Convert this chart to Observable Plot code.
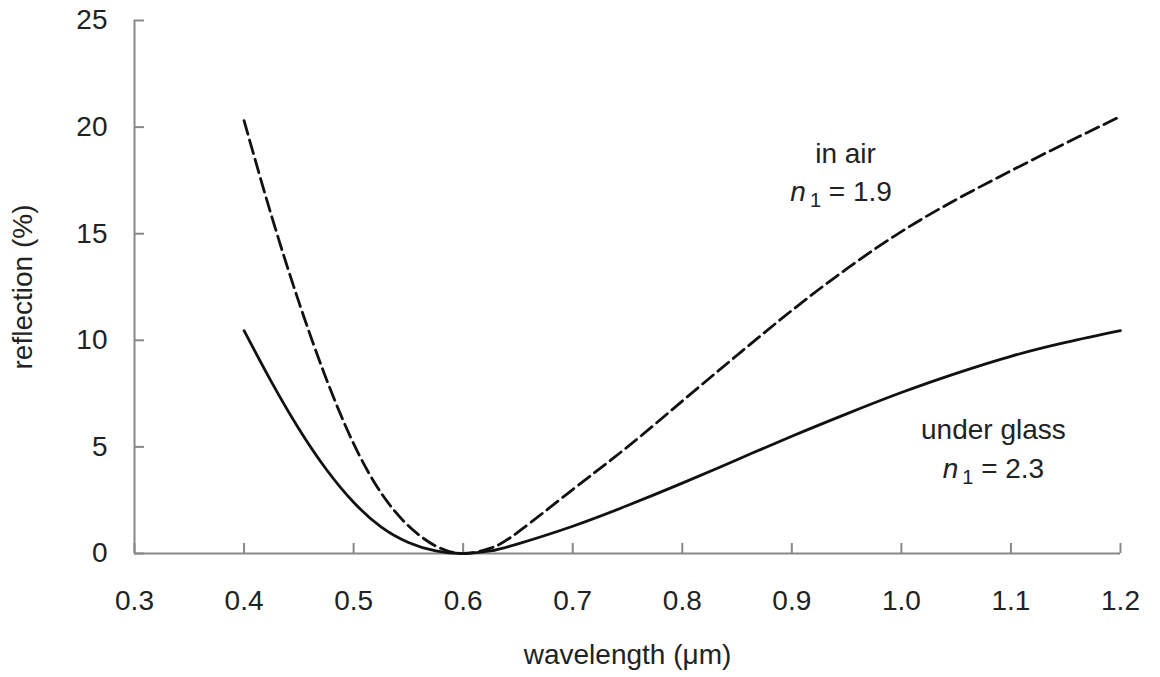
<!DOCTYPE html>
<html><head><meta charset="utf-8">
<script src="https://cdn.jsdelivr.net/npm/d3@7"></script>
<script src="https://cdn.jsdelivr.net/npm/@observablehq/plot@0.6"></script>
<style>
body{margin:0;background:#fff;}
svg{font-family:"Liberation Sans",Arial,sans-serif;}
</style>
</head><body><div id="chart"></div>
<script>
// wavelength in µm
const wavelength = [0.40,0.425,0.45,0.475,0.50,0.525,0.55,0.575,0.60,0.625,0.65,0.70,0.75,0.80,0.85,0.90,0.95,1.00,1.05,1.10,1.15,1.20];
// reflection (%) in air, n1 = 1.9 (dashed)
const inAir      = [20.3,15.85,11.8,8.2,5.15,2.85,1.3,0.35,0.0,0.25,1.0,3.0,5.0,7.15,9.3,11.4,13.35,15.1,16.6,17.95,19.25,20.5];
// reflection (%) under glass, n1 = 2.3 (solid)
const underGlass = [10.45,8.05,5.85,3.95,2.4,1.25,0.52,0.12,0.0,0.12,0.45,1.28,2.25,3.3,4.4,5.5,6.55,7.55,8.45,9.25,9.9,10.45];
const xTicks = [0.3,0.4,0.5,0.6,0.7,0.8,0.9,1.0,1.1,1.2];
const yTicks = [0,5,10,15,20,25];
const labelLines = ["in air","n₁ = 1.9","under glass","n₁ = 2.3"];

const airRows = wavelength.map((w,i)=>({w, r: inAir[i]}));
const glassRows = wavelength.map((w,i)=>({w, r: underGlass[i]}));
const notes = [
  {x:0.949, y:18.33, t:labelLines[0]},
  {x:0.945, y:16.55, t:labelLines[1]},
  {x:1.084, y:5.38, t:labelLines[2]},
  {x:1.084, y:3.54, t:labelLines[3]}
];

const chart = Plot.plot({
  width:1160, height:677,
  marginLeft:134, marginRight:40, marginTop:20, marginBottom:124,
  style:{fontFamily:'"Liberation Sans",Arial,sans-serif', fontSize:"28px", color:"#222", background:"#fff"},
  x:{domain:[0.3,1.2]},
  y:{domain:[0,25]},
  marks:[
    Plot.ruleY([0],{x1:0.3,x2:1.2,stroke:"#888",strokeWidth:2}),
    Plot.ruleX([0.3],{y1:0,y2:25,stroke:"#888",strokeWidth:2}),
    Plot.axisX({ticks:xTicks, tickFormat:d3.format(".1f"), tickSize:-10, tickPadding:47, stroke:"#888", strokeWidth:2,
      fill:"#222", fontSize:28, label:"wavelength (μm)", labelAnchor:"center", labelArrow:"none", labelOffset:110}),
    Plot.axisY({ticks:yTicks, tickSize:-10, tickPadding:37, stroke:"#888", strokeWidth:2,
      fill:"#222", fontSize:28, label:"reflection (%)", labelAnchor:"center", labelArrow:"none", labelOffset:122}),
    Plot.line(airRows,{x:"w", y:"r", curve:"natural", stroke:"#111", strokeWidth:2.8, strokeDasharray:"14,6"}),
    Plot.line(glassRows,{x:"w", y:"r", curve:"natural", stroke:"#111", strokeWidth:2.8}),
    Plot.text(notes,{x:"x", y:"y", text:"t", lineAnchor:"bottom", fontSize:28, fill:"#222"})
  ]
});
document.getElementById("chart").appendChild(chart);

// italic n with subscript 1
chart.querySelectorAll("text").forEach(el => {
  const s = el.textContent;
  if (s.startsWith("n₁")) {
    const rest = s.slice(2);
    while (el.firstChild) el.removeChild(el.firstChild);
    const ns = "http://www.w3.org/2000/svg";
    const a = document.createElementNS(ns,"tspan"); a.setAttribute("font-style","italic"); a.textContent = "n";
    const b = document.createElementNS(ns,"tspan"); b.setAttribute("font-size","20"); b.setAttribute("dy","6"); b.setAttribute("dx","4"); b.textContent = "1";
    const c = document.createElementNS(ns,"tspan"); c.setAttribute("dy","-6"); c.textContent = rest;
    el.appendChild(a); el.appendChild(b); el.appendChild(c);
  }
});
</script>
</body></html>
